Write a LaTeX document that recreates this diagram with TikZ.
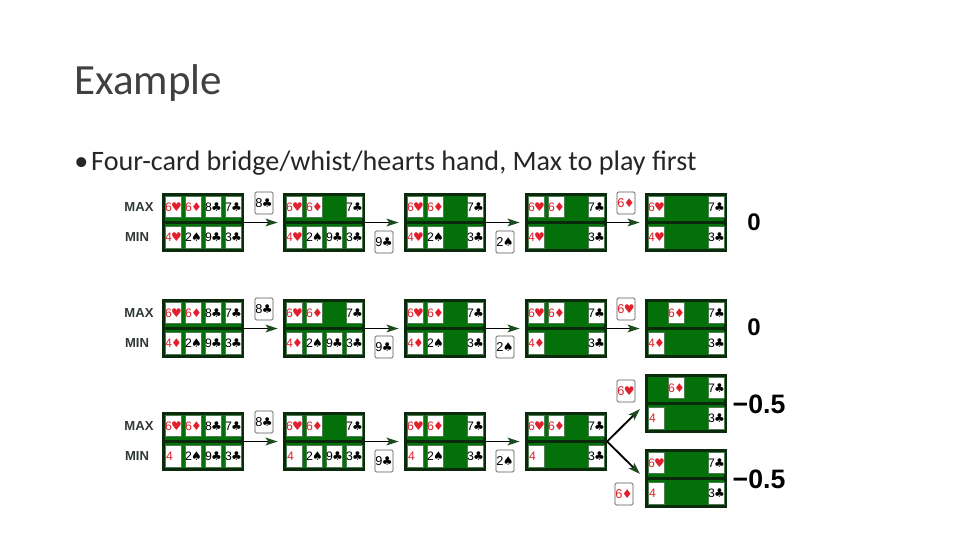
\documentclass[tikz,border=0pt]{standalone}
\usepackage{fontspec}
\setmainfont{Carlito}
\newfontfamily\cardf{Liberation Sans}
\newfontfamily\suitf{DejaVu Sans}
\usetikzlibrary{arrows.meta}
\definecolor{felt}{HTML}{04700A}
\definecolor{frame}{HTML}{0A2A0C}
\definecolor{cardred}{HTML}{E0202C}
\definecolor{tipgreen}{HTML}{1A4A1E}
\definecolor{labgray}{HTML}{303838}
\definecolor{halo}{HTML}{4C7C50}
\newcommand{\sy}[1]{{\suitf\fontsize{9}{9}\selectfont #1}}
\newcommand{\Hs}[1]{\textcolor{cardred}{#1\kern-0.5pt\sy{♥}}}
\newcommand{\Ds}[1]{\textcolor{cardred}{#1\kern-0.5pt\sy{♦}}}
\newcommand{\Cs}[1]{\textcolor{black}{#1\kern-0.5pt\sy{♣}}}
\newcommand{\Ss}[1]{\textcolor{black}{#1\kern-0.5pt\sy{♠}}}
\newcommand{\Rn}[1]{\makebox[11pt][l]{\textcolor{cardred}{#1}}}
\tikzset{
 box/.style={draw=frame,fill=felt,line width=2.6pt,minimum width=59pt,minimum height=41.8pt,inner sep=0pt},
 slotcard/.style={fill=white,draw=halo,line width=0.7pt,minimum width=12.5pt,minimum height=16pt,inner sep=0pt,font=\cardf\fontsize{9.2}{10}\selectfont},
 loose/.style={fill=white,draw=gray!70!black,line width=0.6pt,rounded corners=1pt,minimum width=13.4pt,minimum height=16.5pt,inner sep=0pt,font=\cardf\fontsize{9.6}{10}\selectfont},
 player/.style={inner sep=0pt,text=labgray,font=\cardf\bfseries\fontsize{9.8}{10}\selectfont},
 flow/.style={line width=1.4pt,-{Stealth[length=9pt,width=5.8pt,inset=2pt,color=tipgreen]}},
 zero/.style={inner sep=0pt,font=\cardf\bfseries\fontsize{18}{20}\selectfont},
 half/.style={inner sep=0pt,font=\cardf\bfseries\fontsize{20}{22}\selectfont}
}
% name, left, top, top-row slots, bottom-row slots
\newcommand{\hand}[5]{%
 \node[box] (#1) at (#2+41,#3+29.5) {};
 \draw[frame,line width=2.6pt] (#1.west) -- (#1.east);
 \foreach \s/\c in {#4}{\node[slotcard] (#1-t\s) at (#2-8.5+\s*20,#3+14) {\c};}
 \foreach \s/\c in {#5}{\node[slotcard] (#1-b\s) at (#2-8.5+\s*20,#3+44.5) {\c};}
}
\begin{document}
\begin{tikzpicture}[x=0.75pt,y=-0.75pt]
\useasboundingbox (0,0) rectangle (960,540);
\node[anchor=base west,inner sep=0pt,text=black!75,font=\fontsize{32.3}{34}\selectfont] (title) at (74,94) {Example};
\node[anchor=base west,inner sep=0pt,text=black!85,font=\fontsize{21.1}{24}\selectfont] (bullet) at (74,170) {•\hspace{2.2pt}Four-card bridge/whist/hearts hand, Max to play first};

% Row 1
\node[player] (max1) at (139,207) {MAX};
\node[player] (min1) at (137,237) {MIN};
\hand{a1}{162}{193}{1/\Hs6,2/\Ds6,3/\Cs8,4/\Cs7}{1/\Hs4,2/\Ss2,3/\Cs9,4/\Cs3}
\hand{a2}{283}{193}{1/\Hs6,2/\Ds6,4/\Cs7}{1/\Hs4,2/\Ss2,3/\Cs9,4/\Cs3}
\hand{a3}{404}{193}{1/\Hs6,2/\Ds6,4/\Cs7}{1/\Hs4,2/\Ss2,4/\Cs3}
\hand{a4}{525}{193}{1/\Hs6,2/\Ds6,4/\Cs7}{1/\Hs4,4/\Cs3}
\hand{a5}{645}{193}{1/\Hs6,4/\Cs7}{1/\Hs4,4/\Cs3}
\node[loose] (a8) at (264,203) {\Cs8};
\node[loose] (a9) at (384,242) {\Cs9};
\node[loose] (a2s) at (505,242) {\Ss2};
\node[loose] (a6) at (626,203) {\Ds6};
\node[zero] (av) at (754,222) {0};
\foreach \p/\q in {a1/a2,a2/a3,a3/a4,a4/a5}{\draw[flow,shorten >=4pt] (\p) -- (\q);}

% Row 2
\node[player] (max2) at (139,313) {MAX};
\node[player] (min2) at (137,343) {MIN};
\hand{b1}{162}{299}{1/\Hs6,2/\Ds6,3/\Cs8,4/\Cs7}{1/\Ds4,2/\Ss2,3/\Cs9,4/\Cs3}
\hand{b2}{283}{299}{1/\Hs6,2/\Ds6,4/\Cs7}{1/\Ds4,2/\Ss2,3/\Cs9,4/\Cs3}
\hand{b3}{404}{299}{1/\Hs6,2/\Ds6,4/\Cs7}{1/\Ds4,2/\Ss2,4/\Cs3}
\hand{b4}{525}{299}{1/\Hs6,2/\Ds6,4/\Cs7}{1/\Ds4,4/\Cs3}
\hand{b5}{645}{299}{2/\Ds6,4/\Cs7}{1/\Ds4,4/\Cs3}
\node[loose] (b8) at (264,309) {\Cs8};
\node[loose] (b9) at (384,347) {\Cs9};
\node[loose] (b2s) at (505,347) {\Ss2};
\node[loose] (b6) at (626,309) {\Hs6};
\node[zero] (bv) at (754,327) {0};
\foreach \p/\q in {b1/b2,b2/b3,b3/b4,b4/b5}{\draw[flow,shorten >=4pt] (\p) -- (\q);}

% Row 3
\node[player] (max3) at (139,426) {MAX};
\node[player] (min3) at (137,456) {MIN};
\hand{c1}{162}{412}{1/\Hs6,2/\Ds6,3/\Cs8,4/\Cs7}{1/\Rn4,2/\Ss2,3/\Cs9,4/\Cs3}
\hand{c2}{283}{412}{1/\Hs6,2/\Ds6,4/\Cs7}{1/\Rn4,2/\Ss2,3/\Cs9,4/\Cs3}
\hand{c3}{404}{412}{1/\Hs6,2/\Ds6,4/\Cs7}{1/\Rn4,2/\Ss2,4/\Cs3}
\hand{c4}{525}{412}{1/\Hs6,2/\Ds6,4/\Cs7}{1/\Rn4,4/\Cs3}
\hand{c5}{645}{374}{2/\Ds6,4/\Cs7}{1/\Rn4,4/\Cs3}
\hand{c6}{645}{449}{1/\Hs6,4/\Cs7}{1/\Rn4,4/\Cs3}
\node[loose] (c8) at (264,422) {\Cs8};
\node[loose] (c9) at (384,461) {\Cs9};
\node[loose] (c2s) at (505,461) {\Ss2};
\node[loose] (c6h) at (626,391) {\Hs6};
\node[loose] (c6d) at (624,494) {\Ds6};
\node[half] (cv1) at (759,404) {−0.5};
\node[half] (cv2) at (759,479) {−0.5};
\foreach \p/\q in {c1/c2,c2/c3,c3/c4}{\draw[flow,shorten >=4pt] (\p) -- (\q);}
\coordinate (up) at (640,409);
\coordinate (dn) at (640,474);
\draw[flow] (c4.east) -- (up);
\draw[flow] (c4.east) -- (dn);
\end{tikzpicture}
\end{document}
